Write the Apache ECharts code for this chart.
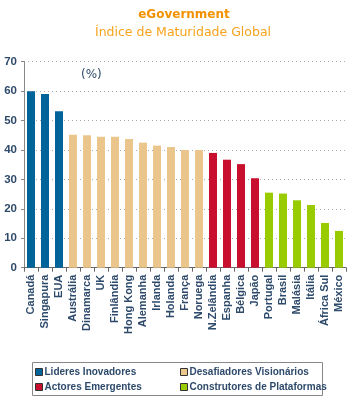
<!DOCTYPE html>
<html><head><meta charset="utf-8">
<script src="https://cdn.jsdelivr.net/npm/echarts@6/dist/echarts.min.js"></script>
<style>html,body{margin:0;padding:0;background:#fff}#c{width:350px;height:406px}</style>
</head><body><div id="c"></div>
<script>
const categories = ['Canadá','Singapura','EUA','Austrália','Dinamarca','UK','Finlândia','Hong Kong','Alemanha','Irlanda','Holanda','França','Noruega','N.Zelândia','Espanha','Bélgica','Japão','Portugal','Brasil','Malásia','Itália','África Sul','México'];
const values = [60.0,59.0,53.2,45.2,45.0,44.5,44.5,43.7,42.5,41.5,41.0,40.0,40.0,39.0,36.7,35.2,30.4,25.5,25.2,22.9,21.3,15.2,12.5];
const groups = [0,0,0,1,1,1,1,1,1,1,1,1,1,2,2,2,2,3,3,3,3,3,3];
const groupNames = ['Lideres Inovadores','Desafiadores Visionários','Actores Emergentes','Construtores de Plataformas'];
const groupColors = ['#00639A','#EAC68C','#C8102E','#99CC00'];
const yTicks = [0,10,20,30,40,50,60,70];

const txt = '#2E4A6B';
const series = groupNames.map((name, g) => ({
  name: name,
  type: 'bar',
  barWidth: 8,
  barGap: '-100%',
  itemStyle: { color: groupColors[g] },
  data: values.map((v, i) => groups[i] === g ? v : '-')
}));

const legendCommon = {
  orient: 'vertical', top: 365.5, itemGap: 2, padding: 0,
  itemWidth: 7, itemHeight: 7, icon: 'rect',
  itemStyle: { borderColor: '#333', borderWidth: 1 },
  textStyle: { fontFamily: 'Liberation Sans', fontSize: 10, fontWeight: 'bold', color: txt, padding: [0,0,0,-3], lineHeight: 13 }
};

const chart = echarts.init(document.getElementById('c'), null, {renderer:'canvas'});
chart.setOption({
  animation: false,
  title: [
    { text: 'eGovernment', left: 179, textAlign: 'center', top: 4,
      textStyle: { fontFamily: 'DejaVu Sans', fontSize: 12, fontWeight: 'bold', color: '#F39200' } },
    { text: 'Índice de Maturidade Global', left: 178, textAlign: 'center', top: 21,
      textStyle: { fontFamily: 'DejaVu Sans', fontSize: 12.5, fontWeight: 'normal', color: '#F7A21B' } },
    { text: '(%)', left: 76, top: 64,
      textStyle: { fontFamily: 'DejaVu Sans', fontSize: 12, fontWeight: 'normal', color: txt } }
  ],
  grid: { left: 24, right: 4, top: 61.7, bottom: 138.3, containLabel: false },
  xAxis: {
    type: 'category', data: categories,
    axisLine: { lineStyle: { color: '#666', width: 1 } },
    axisTick: { show: true, alignWithLabel: false, length: 4, lineStyle: { color: '#666' } },
    axisLabel: { rotate: 90, interval: 0, margin: 7, fontFamily: 'Liberation Sans', fontSize: 11, fontWeight: 'bold', color: txt }
  },
  yAxis: {
    type: 'value', min: yTicks[0], max: yTicks[yTicks.length-1], interval: 10,
    axisLine: { show: true, lineStyle: { color: '#888' } },
    axisTick: { show: true, length: 3, lineStyle: { color: '#888' } },
    axisLabel: { margin: 7, fontFamily: 'Liberation Sans', fontSize: 11.5, fontWeight: 'bold', color: txt },
    splitLine: { show: true, lineStyle: { color: '#AAAAAA', type: [1, 3], width: 1 } }
  },
  legend: [
    Object.assign({ data: [groupNames[0], groupNames[2]], left: 35 }, legendCommon),
    Object.assign({ data: [groupNames[1], groupNames[3]], left: 180 }, legendCommon)
  ],
  graphic: [
    { type: 'rect', shape: { x: 32.5, y: 362.5, width: 290, height: 33 }, silent: true,
      style: { fill: 'none', stroke: '#888', lineWidth: 1 }, z: -1 }
  ],
  series: series
});
</script></body></html>
